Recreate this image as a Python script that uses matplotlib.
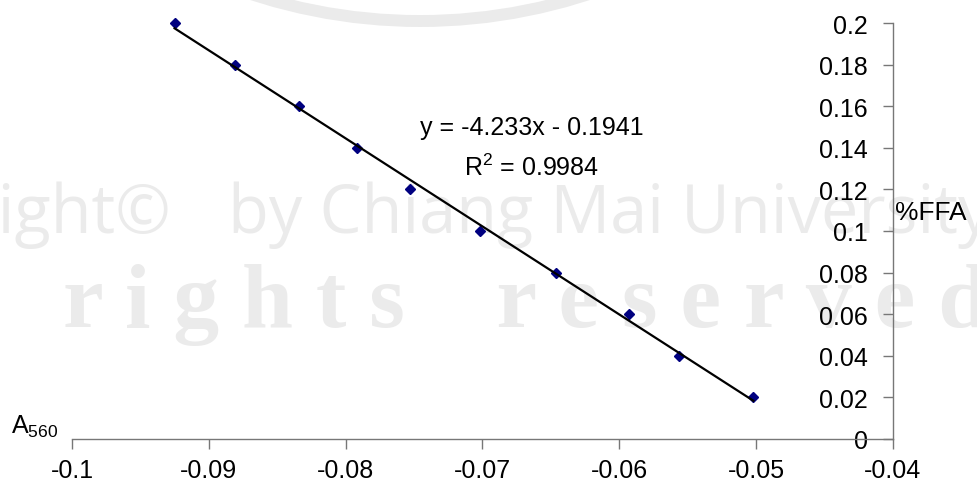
import matplotlib
matplotlib.use("Agg")
import matplotlib.pyplot as plt
from matplotlib.patches import Circle
from matplotlib.transforms import IdentityTransform
import numpy as np

# absorbance at 560 nm vs %FFA
a560 = [-0.0925, -0.0881, -0.0834, -0.0792, -0.0753, -0.0702, -0.0646, -0.0593, -0.0556, -0.0502]
ffa = [0.20, 0.18, 0.16, 0.14, 0.12, 0.10, 0.08, 0.06, 0.04, 0.02]
slope = -4.233
intercept = -0.1941
r2 = 0.9984
x_ticks = [-0.1, -0.09, -0.08, -0.07, -0.06, -0.05, -0.04]
y_ticks = [0, 0.02, 0.04, 0.06, 0.08, 0.1, 0.12, 0.14, 0.16, 0.18, 0.2]

plt.rcParams["font.family"] = ["Liberation Sans", "DejaVu Sans"]
plt.rcParams["mathtext.fontset"] = "custom"
plt.rcParams["mathtext.rm"] = "Liberation Sans"
plt.rcParams["mathtext.it"] = "Liberation Sans"

fs = 18
fig = plt.figure(figsize=(9.78, 4.85), dpi=100)
ax = fig.add_axes([0.0736, 0.0928, 0.8394, 0.8577])

# faint watermark of the scanned page, behind the chart
wm = "#ebebeb"
ring = Circle((420, 1006), 543, fill=False, linewidth=8.6, edgecolor=wm,
              transform=IdentityTransform(), zorder=-2)
fig.add_artist(ring)
fig.text(0.175, 0.52, "Copyright\u00a9", fontsize=48, family="Open Sans",
         color=wm, ha="right", va="baseline", zorder=-1)
fig.text(0.233, 0.52, "by Chiang Mai University", fontsize=48,
         family="Open Sans", color=wm, ha="left", va="baseline", zorder=-1)
fig.text(0.064, 0.326, "r i g h t s    r e s e r v e d", fontsize=66,
         family="Liberation Serif", fontweight="bold", color=wm,
         va="baseline", zorder=-1)

ax.patch.set_alpha(0)
ax.plot(a560, ffa, linestyle="none", marker="D", markersize=5.5,
        color="#000080", zorder=3, clip_on=False)
xs = np.array([min(a560), max(a560)])
ax.plot(xs, slope * xs + intercept, color="black", linewidth=1.6, zorder=4)

ax.set_xlim(-0.1, -0.04)
ax.set_ylim(0, 0.2)
ax.set_xticks(x_ticks)
ax.set_xticklabels([f"{v:g}" for v in x_ticks])
ax.set_yticks(y_ticks)
ax.set_yticklabels([f"{v:g}" for v in y_ticks])

for s in ["top", "right"]:
    ax.spines[s].set_visible(False)
ax.spines["left"].set_position(("data", -0.04))
ax.spines["bottom"].set_position(("data", 0))
for s in ["left", "bottom"]:
    ax.spines[s].set_color("#777777")
    ax.spines[s].set_linewidth(1.0)
ax.tick_params(axis="both", direction="out", length=7, width=1.0,
               color="#777777", labelsize=fs, labelcolor="black")
ax.tick_params(axis="x", pad=7)
ax.tick_params(axis="y", pad=11)

ax.text(1.003, 0.546, "%FFA", transform=ax.transAxes, fontsize=fs + 1,
        ha="left", va="center")
ax.text(-0.074, 0.0, "A$_{560}$", transform=ax.transAxes, fontsize=fs,
        ha="left", va="bottom")
ax.text(-0.0664, 0.150, f"y = {slope}x - {abs(intercept)}", fontsize=fs,
        ha="center", va="center")
ax.text(-0.0664, 0.131, f"R$^2$ = {r2}", fontsize=fs,
        ha="center", va="center")

fig.savefig("out.png", dpi=100)
